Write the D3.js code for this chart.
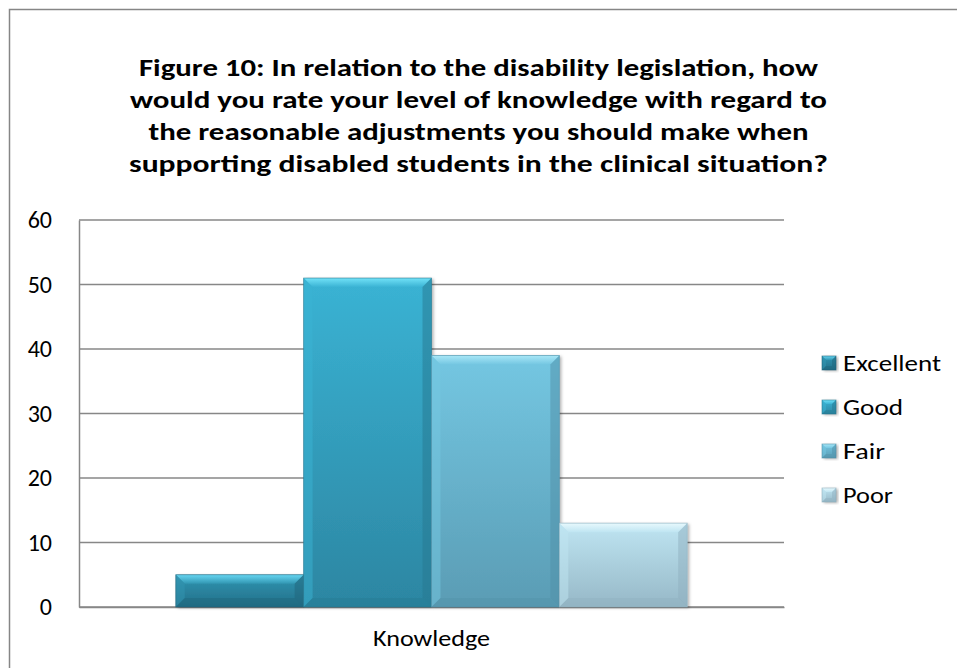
<!DOCTYPE html>
<html><head><meta charset="utf-8">
<script src="https://cdn.jsdelivr.net/npm/d3@7"></script>
<style>html,body{margin:0;padding:0;background:#fff;}svg{display:block;}</style>
</head><body>
<script>
const titleLines = [
  "Figure 10: In relation to the disability legislation, how",
  "would you rate your level of knowledge with regard to",
  "the reasonable adjustments you should make when",
  "supporting disabled students in the clinical situation?"
];
const category = ["Knowledge"];
const seriesNames = ["Excellent", "Good", "Fair", "Poor"];
const seriesValues = [5, 51, 39, 13];
const yTicks = [0, 10, 20, 30, 40, 50, 60];

const colors = {
  Excellent: {top: "#3196b2", bot: "#236f89", hi: "#67d6f2", side: "#1f6379"},
  Good:      {top: "#3ab3d4", bot: "#2c86a2", hi: "#72e2f8", side: "#26788f"},
  Fair:      {top: "#74c7e2", bot: "#5a9cb4", hi: "#a9e7f7", side: "#5090a8"},
  Poor:      {top: "#bfe5f2", bot: "#96b8c7", hi: "#e8f9fd", side: "#8fb0bf"}
};

const W = 957, H = 668;
const font = "Calibri, Carlito, Lato, 'Open Sans', sans-serif";
const svg = d3.select("body").append("svg").attr("width", W).attr("height", H);

// outer frame
svg.append("rect").attr("x", 9.5).attr("y", 9.5).attr("width", W + 20).attr("height", H + 20)
  .attr("fill", "#fff").attr("stroke", "#868686").attr("stroke-width", 1.5);

// title
const titleY = [76, 108, 140, 172];
const titleW = [679, 697, 660, 699];
svg.append("g").selectAll("text").data(titleLines).join("text")
  .attr("x", 478.5).attr("y", (d, i) => titleY[i])
  .attr("text-anchor", "middle").attr("font-family", font).attr("font-weight", "bold")
  .attr("font-size", 24).attr("fill", "#000")
  .attr("textLength", (d, i) => titleW[i]).attr("lengthAdjust", "spacingAndGlyphs")
  .text(d => d);

const plot = {x0: 79, x1: 784, y0: 607, y1: 220};
const y = d3.scaleLinear().domain([0, 60]).range([plot.y0, plot.y1]);
const x0 = d3.scaleBand().domain(category).range([plot.x0, plot.x1]).paddingInner(0).paddingOuter(0);
const x1 = d3.scaleBand().domain(seriesNames).range([0, x0.bandwidth()]).paddingOuter(0.757).paddingInner(0);

// gridlines
svg.append("g").selectAll("line").data(yTicks).join("line")
  .attr("x1", plot.x0).attr("x2", plot.x1)
  .attr("y1", d => y(d)).attr("y2", d => y(d))
  .attr("stroke", "#878787").attr("stroke-width", 1.5);

// y axis
const yAxis = d3.axisLeft(y).tickValues(yTicks).tickSize(0).tickPadding(27);
const yg = svg.append("g").attr("transform", `translate(${plot.x0},0)`).call(yAxis);
yg.select(".domain").attr("stroke", "#878787").attr("stroke-width", 1.5);
yg.selectAll("text").attr("font-family", font).attr("font-size", 24).attr("fill", "#000");

// x axis label
const xAxis = d3.axisBottom(x0).tickSize(0).tickPadding(23);
const xg = svg.append("g").attr("transform", `translate(0,${plot.y0})`).call(xAxis);
xg.select(".domain").attr("stroke", "#878787").attr("stroke-width", 1.5);
xg.selectAll("text").attr("font-family", font).attr("font-size", 22).attr("fill", "#000")
  .attr("textLength", 117).attr("lengthAdjust", "spacingAndGlyphs");

// gradients
const defs = svg.append("defs");
seriesNames.forEach((s, i) => {
  const g = defs.append("linearGradient").attr("id", "g" + i).attr("x1", 0).attr("y1", 0).attr("x2", 0).attr("y2", 1);
  g.append("stop").attr("offset", "0%").attr("stop-color", colors[s].top);
  g.append("stop").attr("offset", "100%").attr("stop-color", colors[s].bot);
  const h = defs.append("linearGradient").attr("id", "h" + i).attr("x1", 0).attr("y1", 0).attr("x2", 0).attr("y2", 1);
  h.append("stop").attr("offset", "0%").attr("stop-color", colors[s].hi);
  h.append("stop").attr("offset", "100%").attr("stop-color", colors[s].top);
});
const shadow = defs.append("filter").attr("id", "sh").attr("x", "-10%").attr("y", "-10%").attr("width", "130%").attr("height", "130%");
shadow.append("feDropShadow").attr("dx", 2).attr("dy", 1).attr("stdDeviation", 1.5).attr("flood-color", "#000").attr("flood-opacity", 0.3);

function bevelBar(g, bx, by, bw, bh, i, s, b) {
  g.append("rect").attr("x", bx).attr("y", by).attr("width", bw).attr("height", bh)
    .attr("fill", `url(#g${i})`).attr("filter", "url(#sh)");
  g.append("polygon").attr("points", [[bx, by], [bx + bw, by], [bx + bw - b, by + b], [bx + b, by + b]].join(" "))
    .attr("fill", `url(#h${i})`);
  g.append("polygon").attr("points", [[bx, by], [bx + b, by + b], [bx + b, by + bh - b], [bx, by + bh]].join(" "))
    .attr("fill", colors[s].top).attr("opacity", 0.5);
  g.append("polygon").attr("points", [[bx + bw, by], [bx + bw - b, by + b], [bx + bw - b, by + bh - b], [bx + bw, by + bh]].join(" "))
    .attr("fill", colors[s].side).attr("opacity", 0.5);
  g.append("polygon").attr("points", [[bx, by + bh], [bx + b, by + bh - b], [bx + bw - b, by + bh - b], [bx + bw, by + bh]].join(" "))
    .attr("fill", colors[s].side).attr("opacity", 0.4);
  g.append("rect").attr("x", bx).attr("y", by).attr("width", bw).attr("height", bh)
    .attr("fill", "none").attr("stroke", colors[s].side).attr("stroke-width", 0.8).attr("opacity", 0.7);
}

const barsG = svg.append("g");
seriesNames.forEach((s, i) => {
  const bx = x0(category[0]) + x1(s);
  const bw = x1.bandwidth();
  const by = y(seriesValues[i]);
  const bh = y(0) - by;
  bevelBar(barsG, bx, by, bw, bh, i, s, 9);
});

// legend
const legY = [363, 407, 451, 495];
const legW = [98, 60, 42, 50];
const lg = svg.append("g");
seriesNames.forEach((s, i) => {
  bevelBar(lg, 822, legY[i] - 7, 14, 14, i, s, 4);
  lg.append("text").attr("x", 843).attr("y", legY[i] + 8)
    .attr("font-family", font).attr("font-size", 23).attr("fill", "#000")
    .attr("textLength", legW[i]).attr("lengthAdjust", "spacingAndGlyphs")
    .text(s);
});
</script>
</body></html>
